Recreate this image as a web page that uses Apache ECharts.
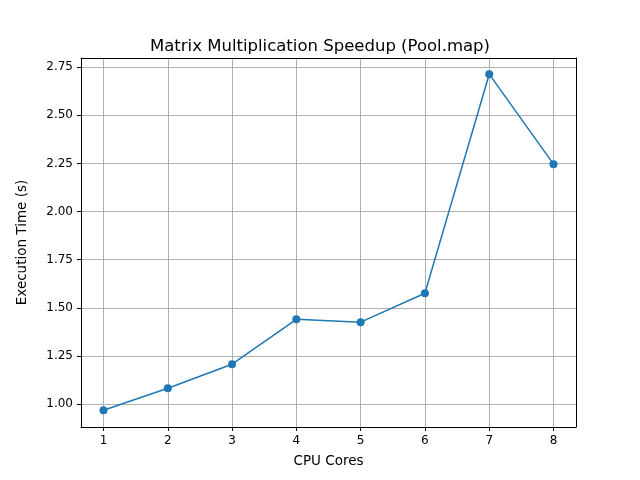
<!DOCTYPE html>
<html><head><meta charset="utf-8">
<script src="https://cdn.jsdelivr.net/npm/echarts@6/dist/echarts.min.js"></script>
<style>html,body{margin:0;padding:0;background:#fff}#c{width:640px;height:480px}</style>
</head><body><div id="c"></div>
<script>
const cores = [1,2,3,4,5,6,7,8];
const times = [0.969,1.083,1.208,1.441,1.426,1.576,2.713,2.246];
const xTicks = [1,2,3,4,5,6,7,8];
const yTicks = [1.00,1.25,1.50,1.75,2.00,2.25,2.50,2.75];
const chart = echarts.init(document.getElementById('c'));
const font = 'DejaVu Sans';
const xr = {min:0.65,max:8.35}, yr = {min:0.882,max:2.797};
chart.setOption({
  animation:false,
  title:{text:'Matrix Multiplication Speedup (Pool.map)',left:'center',top:33,textStyle:{fontFamily:font,fontSize:16.5,fontWeight:'normal',color:'#000'}},
  grid:{left:81,right:64,top:58,bottom:53},
  xAxis:[{type:'value',...xr,name:'CPU Cores',nameLocation:'middle',nameGap:27,
    nameTextStyle:{fontFamily:font,fontSize:13.5,color:'#000'},
    axisLine:{onZero:false,lineStyle:{color:'#000'}},
    axisTick:{customValues:xTicks,length:4,lineStyle:{color:'#000'}},
    axisLabel:{customValues:xTicks,fontFamily:font,fontSize:12,color:'#000',formatter:v=>String(v)},
    splitLine:{show:true,lineStyle:{color:'#b0b0b0'}}},
   {type:'value',...xr,position:'top',axisLine:{show:true,onZero:false,lineStyle:{color:'#000'}},
    axisTick:{show:false},axisLabel:{show:false},splitLine:{show:false}}],
  yAxis:[{type:'value',...yr,name:'Execution Time (s)',nameLocation:'middle',nameGap:52,
    nameTextStyle:{fontFamily:font,fontSize:13.5,color:'#000'},
    axisLine:{show:true,onZero:false,lineStyle:{color:'#000'}},
    axisTick:{show:true,customValues:yTicks,length:4,lineStyle:{color:'#000'}},
    axisLabel:{customValues:yTicks,fontFamily:font,fontSize:12,color:'#000',formatter:v=>v.toFixed(2)},
    splitLine:{show:true,lineStyle:{color:'#b0b0b0'}}},
   {type:'value',...yr,position:'right',axisLine:{show:true,onZero:false,lineStyle:{color:'#000'}},
    axisTick:{show:false},axisLabel:{show:false},splitLine:{show:false}}],
  series:[{type:'line',data:cores.map((c,i)=>[c,times[i]]),symbol:'circle',symbolSize:8,
    lineStyle:{color:'#1f77b4',width:1.5},itemStyle:{color:'#1f77b4'}}]
});
</script></body></html>
